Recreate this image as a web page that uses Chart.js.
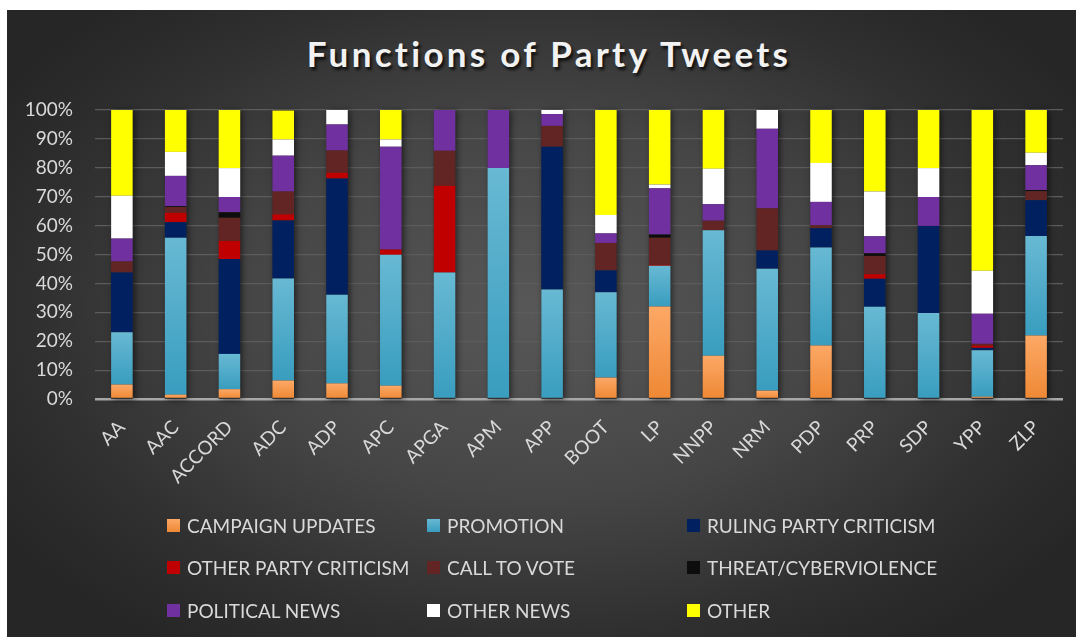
<!DOCTYPE html>
<html>
<head>
<meta charset="utf-8">
<script src="https://cdn.jsdelivr.net/npm/chart.js@4.4.1/dist/chart.umd.min.js"></script>
<style>
  html, body { margin: 0; padding: 0; background: #ffffff; }
  body { width: 1079px; height: 637px; position: relative; overflow: hidden; }
  #bg {
    position: absolute; left: 7px; top: 10px; width: 1069px; height: 627px;
    background: radial-gradient(ellipse 60% 65% at 50% 48%, #585858 0%, #464646 45%, #2f2f2f 80%, #262626 100%);
  }
  #title {
    position: absolute; left: 0; top: 32px; width: 1098px; text-align: center;
    font-family: Lato, "Open Sans", sans-serif; font-weight: bold; font-size: 35px;
    letter-spacing: 3.3px; color: #f2f2f2;
    text-shadow: 2px 3px 3px rgba(0,0,0,0.75);
  }
  #wrap { position: absolute; left: 0; top: 0; width: 1079px; height: 637px; }
  #legend { position: absolute; left: 0; top: 0; width: 1079px; height: 637px; pointer-events: none; }
  .li { position: absolute; display: flex; align-items: center; height: 22px;
        font-family: Lato, "Open Sans", sans-serif; font-size: 19px; color: #d9d9d9; white-space: nowrap; }
  .sw { width: 13px; height: 13px; margin-right: 7px; }
</style>
</head>
<body>
<div id="bg"></div>
<div id="title">Functions of Party Tweets</div>
<div id="wrap"><canvas id="c" width="1079" height="637"></canvas></div>
<div id="legend"></div>
<script>
const categories = ['AA','AAC','ACCORD','ADC','ADP','APC','APGA','APM','APP','BOOT','LP','NNPP','NRM','PDP','PRP','SDP','YPP','ZLP'];
const seriesNames = ['CAMPAIGN UPDATES','PROMOTION','RULING PARTY CRITICISM','OTHER PARTY CRITICISM','CALL TO VOTE','THREAT/CYBERVIOLENCE','POLITICAL NEWS','OTHER NEWS','OTHER'];
const yTickLabels = ['0%','10%','20%','30%','40%','50%','60%','70%','80%','90%','100%'];

const campaignUpdates      = [5.0, 1.5, 3.4, 6.4, 5.4, 4.6, 0, 0, 0, 7.4, 32.0, 15.0, 2.9, 18.5, 0, 0, 0.8, 22.0];
const promotion            = [18.1, 54.3, 12.2, 35.3, 30.7, 45.3, 43.8, 79.9, 37.9, 29.5, 14.1, 43.4, 42.2, 33.9, 31.9, 29.8, 16.1, 34.4];
const rulingPartyCriticism = [20.7, 5.4, 32.8, 20.1, 40.2, 0, 0, 0, 49.4, 7.6, 0, 0, 6.3, 6.7, 9.7, 30.1, 0.8, 12.4];
const otherPartyCriticism  = [0, 3.2, 6.3, 2.1, 2.0, 1.8, 30.0, 0, 0, 0, 0.3, 0, 0, 0, 1.6, 0, 0.8, 0];
const callToVote           = [3.8, 2.0, 8.0, 7.9, 7.7, 0, 12.1, 0, 7.2, 9.5, 9.4, 3.3, 14.6, 1.0, 6.3, 0, 0.6, 3.1];
const threatCyberviolence  = [0, 0.3, 1.9, 0, 0, 0, 0, 0, 0, 0, 1.1, 0, 0, 0, 0.9, 0, 0, 0.4];
const politicalNews        = [7.9, 10.5, 5.3, 12.4, 9.0, 35.6, 14.1, 20.1, 4.1, 3.3, 16.0, 5.7, 27.5, 8.1, 5.9, 10.0, 10.4, 8.6];
const otherNews            = [14.8, 8.3, 10.0, 5.6, 5.0, 2.5, 0, 0, 1.4, 6.4, 1.3, 12.3, 6.5, 13.5, 15.5, 10.0, 14.9, 4.3];
const other                = [29.7, 14.5, 20.1, 10.0, 0, 10.2, 0, 0, 0, 36.3, 25.8, 20.3, 0, 18.3, 28.2, 20.1, 55.6, 14.8];

const seriesValues = [campaignUpdates, promotion, rulingPartyCriticism, otherPartyCriticism, callToVote, threatCyberviolence, politicalNews, otherNews, other];
const seriesColors = ['#f79646', '#4bacc6', '#002060', '#c00000', '#632523', '#0d0d0d', '#7030a0', '#ffffff', '#ffff00'];
const gradientStops = [['#fca866', '#ee8834'], ['#68b9d3', '#399dbf'], null, null, null, null, null, null, null];

function segColor(si) {
  return function(ctx) {
    const stops = gradientStops[si];
    if (!stops || ctx.type !== 'data') return seriesColors[si];
    const chart = ctx.chart;
    if (!chart.chartArea || !chart.scales.y) return seriesColors[si];
    const j = ctx.dataIndex;
    let start = 0;
    for (let k = 0; k < si; k++) start += seriesValues[k][j];
    const end = start + seriesValues[si][j];
    const y0 = chart.scales.y.getPixelForValue(end);
    const y1 = chart.scales.y.getPixelForValue(start);
    if (!isFinite(y0) || !isFinite(y1) || y1 - y0 < 1) return stops[0];
    const g = chart.ctx.createLinearGradient(0, y0, 0, y1);
    g.addColorStop(0, stops[0]);
    g.addColorStop(1, stops[1]);
    return g;
  };
}

const datasets = seriesNames.map((name, i) => ({
  label: name,
  data: seriesValues[i],
  backgroundColor: segColor(i),
  borderWidth: 0,
  categoryPercentage: 1.0,
  barPercentage: 0.4
}));

const stackShadow = {
  id: 'stackShadow',
  beforeDatasetsDraw(chart) {
    const ctx = chart.ctx;
    const yScale = chart.scales.y;
    const base = yScale.getPixelForValue(0);
    const metas = chart.getSortedVisibleDatasetMetas();
    ctx.save();
    ctx.shadowColor = 'rgba(0,0,0,0.55)';
    ctx.shadowBlur = 6;
    ctx.shadowOffsetX = 2;
    ctx.shadowOffsetY = 1;
    ctx.fillStyle = '#333333';
    categories.forEach((c, j) => {
      let top = base, x = null, w = 0;
      metas.forEach(m => {
        const el = m.data[j];
        if (!el) return;
        const p = el.getProps(['x', 'y', 'width'], true);
        if (x === null) { x = p.x; w = p.width; }
        if (p.y < top) top = p.y;
      });
      if (x !== null && base - top > 0) ctx.fillRect(x - w / 2, top, w, base - top);
    });
    ctx.restore();
  }
};

const chart = new Chart(document.getElementById('c'), {
  type: 'bar',
  data: { labels: categories, datasets },
  plugins: [stackShadow],
  options: {
    responsive: false,
    animation: false,
    devicePixelRatio: 1,
    layout: { padding: { left: 0, top: 110, right: 16, bottom: 0 } },
    plugins: { legend: { display: false }, title: { display: false }, tooltip: { enabled: false } },
    scales: {
      x: {
        stacked: true,
        grid: { display: false },
        border: { display: false },
        ticks: {
          color: '#d9d9d9', font: { family: 'Lato', size: 19 },
          minRotation: 45, maxRotation: 45, padding: 9, autoSkip: false
        },
        afterFit(s) { s.height = 238; }
      },
      y: {
        stacked: true, min: 0, max: 100,
        border: { display: false },
        grid: {
          drawTicks: false,
          color: c => c.tick && c.tick.value === 0 ? '#a8a8a8' : '#5c5c5c',
          lineWidth: c => c.tick && c.tick.value === 0 ? 2.5 : 1.2
        },
        ticks: {
          stepSize: 10, color: '#d9d9d9', font: { family: 'Lato', size: 19 }, padding: 22,
          callback: (v) => yTickLabels[Math.round(v / 10)]
        },
        afterFit(s) { s.width = 95; }
      }
    }
  }
});

const legendPos = [[167, 525], [427, 525], [687, 525], [167, 567], [427, 567], [687, 567], [167, 610], [427, 610], [687, 610]];
const legend = document.getElementById('legend');
seriesNames.forEach((n, i) => {
  const d = document.createElement('div');
  d.className = 'li';
  d.style.left = legendPos[i][0] + 'px';
  d.style.top = (legendPos[i][1] - 11) + 'px';
  const sw = document.createElement('div');
  sw.className = 'sw';
  sw.style.background = gradientStops[i] ? `linear-gradient(${gradientStops[i][0]}, ${gradientStops[i][1]})` : seriesColors[i];
  const t = document.createElement('span');
  t.textContent = n;
  d.appendChild(sw); d.appendChild(t);
  legend.appendChild(d);
});
</script>
</body>
</html>
